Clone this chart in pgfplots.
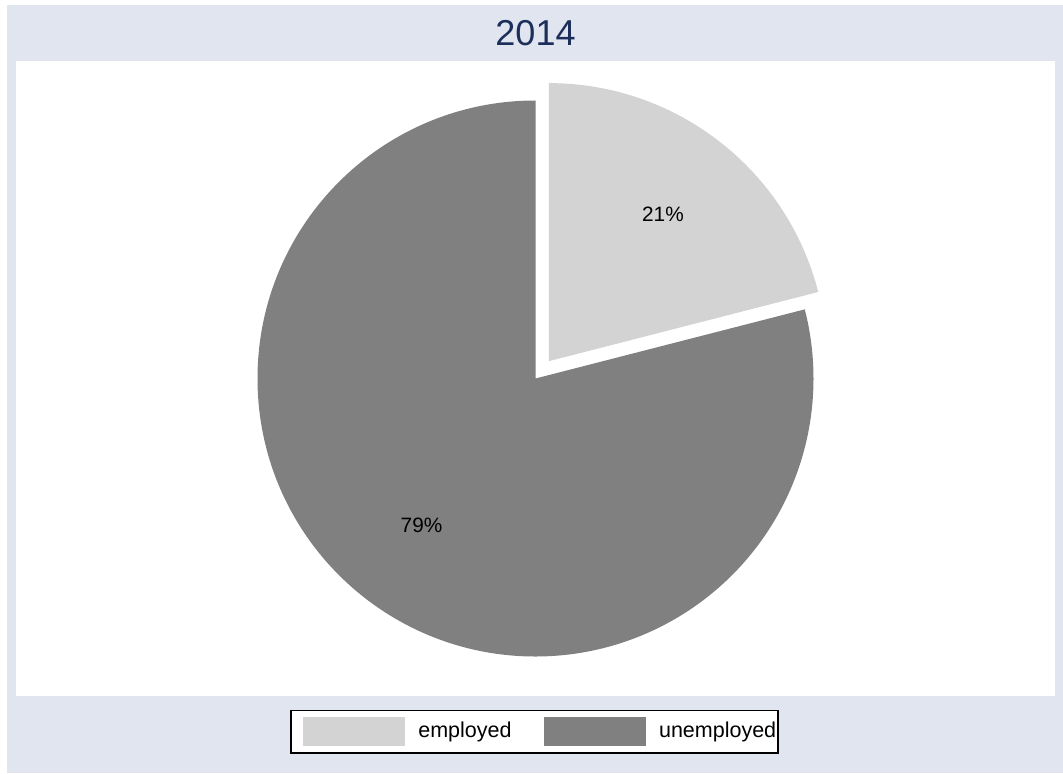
\documentclass[border=0pt]{standalone}
\usepackage{fontspec}
\setmainfont{Liberation Sans}
\usepackage{pgfplots}
\usepackage{pgfplotstable}
\pgfplotsset{compat=1.18}
\definecolor{bgcol}{RGB}{224,229,240}
\definecolor{emplcol}{RGB}{211,211,211}
\definecolor{unemplcol}{RGB}{128,128,128}
\definecolor{titlecol}{RGB}{28,46,90}
\pgfplotstableread{
status value
employed 21
unemployed 79
}\piedata
\begin{document}
\begin{tikzpicture}
\pgfplotstablegetelem{0}{value}\of\piedata \let\vE\pgfplotsretval
\pgfplotstablegetelem{1}{value}\of\piedata \let\vU\pgfplotsretval
\pgfmathsetmacro\angE{\vE/(\vE+\vU)*360}
\pgfmathsetmacro\endE{90-\angE}
\pgfmathsetmacro\midE{90-\angE/2}
\pgfmathsetmacro\midU{90+(360-\angE)/2}
\pgfmathsetmacro\endU{450-\angE}
\useasboundingbox (0pt,0pt) rectangle (531.5pt,386.5pt);
\fill[white] (0pt,0pt) rectangle (531.5pt,386.5pt);
\fill[bgcol] (3.5pt,0pt) rectangle (531.5pt,384pt);
\fill[white] (8pt,38.5pt) rectangle (527.5pt,356pt);
\begin{axis}[
  at={(8pt,38.5pt)}, anchor=south west,
  scale only axis, width=519.5pt, height=317.5pt,
  xmin=16, xmax=1055, ymin=77, ymax=712,
  hide axis, clip=false,
  legend columns=2,
  legend style={at={(axis cs:534.5,41.5)}, anchor=center, draw=black,
    line width=0.75pt, fill=white, inner xsep=1pt, inner ysep=3.25pt,
    font=\fontsize{10.75}{12}\selectfont,
    nodes={inner sep=0pt},
    /tikz/every odd column/.append style={column sep=6.5pt},
    /tikz/every even column/.append style={column sep=16pt}},
  legend cell align=left,
]
\fill[emplcol] ([shift={(\midE:11pt)}]axis cs:535.5,394.5) -- ++(90:139pt)
   arc[start angle=90, end angle=\endE, radius=139pt] -- cycle;
\fill[unemplcol] (axis cs:535.5,394.5) -- ++(90:139pt)
   arc[start angle=90, end angle=\endU, radius=139pt] -- cycle;
\node[font=\fontsize{10.4}{12}\selectfont] at ([shift={(\midE:104pt)}]axis cs:535.5,394.5) {21\%};
\node[font=\fontsize{10.4}{12}\selectfont] at ([shift={(\midU:93pt)}]axis cs:535.5,394.5) {79\%};
\node[font=\fontsize{18}{20}\selectfont, text=titlecol] at (axis cs:535.5,740) {2014};
\addlegendimage{legend image code/.code={\path (0pt,0pt); \fill[emplcol] (5pt,-7pt) rectangle (55.5pt,7pt);}}
\addlegendentry{employed}
\addlegendimage{legend image code/.code={\fill[unemplcol] (0pt,-7pt) rectangle (50.5pt,7pt);}}
\addlegendentry{unemployed}
\end{axis}
\end{tikzpicture}
\end{document}
